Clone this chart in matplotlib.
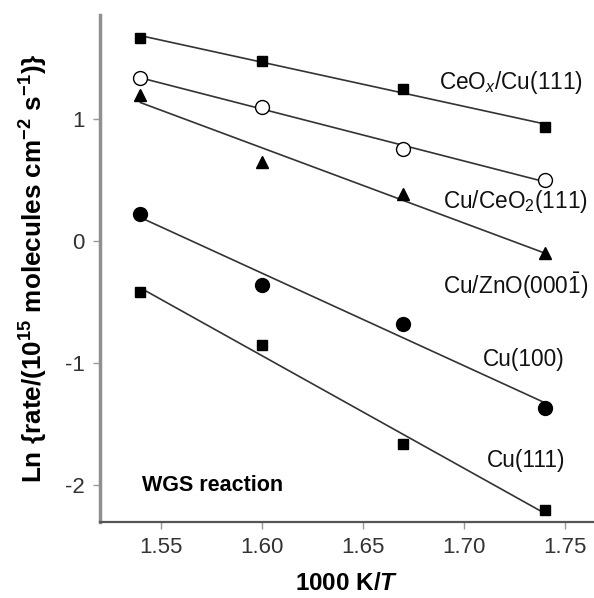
import numpy as np
import matplotlib.pyplot as plt

plt.rcParams['font.family'] = ['Liberation Sans', 'DejaVu Sans']
plt.rcParams['mathtext.fontset'] = 'custom'
plt.rcParams['mathtext.rm'] = 'Liberation Sans'
plt.rcParams['mathtext.it'] = 'Liberation Sans:italic'
plt.rcParams['mathtext.bf'] = 'Liberation Sans:bold'
plt.rcParams['mathtext.bfit'] = 'Liberation Sans:bold:italic'
plt.rcParams['axes.unicode_minus'] = False

# 1000 K/T and ln(rate) for each surface
inv_T = [1.54, 1.60, 1.67, 1.74]
ceox_cu111 = [1.664, 1.475, 1.246, 0.934]
cu_ceo2 = [1.336, 1.098, 0.754, 0.500]
cu_zno = [1.197, 0.648, 0.385, -0.098]
cu100 = [0.221, -0.361, -0.680, -1.369]
cu111 = [-0.418, -0.852, -1.664, -2.205]

series = [
    (ceox_cu111, 's', 'black', 7, 'CeO$_x$/Cu(111)', 1.7233, 1.30),
    (cu_ceo2, 'o', 'white', 10, 'Cu/CeO$_2$(111)', 1.7255, 0.32),
    (cu_zno, '^', 'black', 9, r'Cu/ZnO(000$\bar{1}$)', 1.7255, -0.37),
    (cu100, 'o', 'black', 10, 'Cu(100)', 1.7297, -0.975),
    (cu111, 's', 'black', 7, 'Cu(111)', 1.7307, -1.80),
]

fig = plt.figure(figsize=(5.94, 5.98), dpi=100)
ax = fig.add_axes([0.1684, 0.1271, 0.8316, 0.8479])

x = np.array(inv_T)
for y, mk, fc, ms, label, tx, ty in series:
    slope, icpt = np.polyfit(x, y, 1)
    ax.plot(x, slope * x + icpt, color='#333333', lw=1.2, zorder=2)
    ax.plot(x, y, mk, ms=ms, mfc=fc, mec='black', mew=1.0, ls='none', zorder=3)
    ax.text(tx, ty, label, fontsize=16.3, ha='center', va='center', color='#111111')

ax.text(1.541, -2.0, 'WGS reaction', fontsize=15.5, fontweight='bold',
        ha='left', va='center')

ax.set_xlim(1.52, 1.7645)
ax.set_ylim(-2.303, 1.852)
ax.set_xticks([1.55, 1.60, 1.65, 1.70, 1.75])
ax.set_xticklabels(['1.55', '1.60', '1.65', '1.70', '1.75'])
ax.set_yticks([-2, -1, 0, 1])

ax.spines['top'].set_visible(False)
ax.spines['right'].set_visible(False)
ax.spines['left'].set_color('#909090')
ax.spines['left'].set_linewidth(2.5)
ax.spines['bottom'].set_color('#555555')
ax.spines['bottom'].set_linewidth(1.6)
ax.tick_params(direction='out', length=5, width=1, color='#999999',
               labelsize=16, labelcolor='#333333', pad=6)

ax.set_xlabel('1000 K/$\\mathbfit{T}$', fontsize=17.5, fontweight='bold', labelpad=10)
ax.set_ylabel('Ln {rate/(10$^{\\mathbf{15}}$ molecules cm$^{\\mathbf{-2}}$ s$^{\\mathbf{-1}}$)}',
              fontsize=18.8, fontweight='bold', labelpad=11)

fig.savefig('out.png', dpi=100)
